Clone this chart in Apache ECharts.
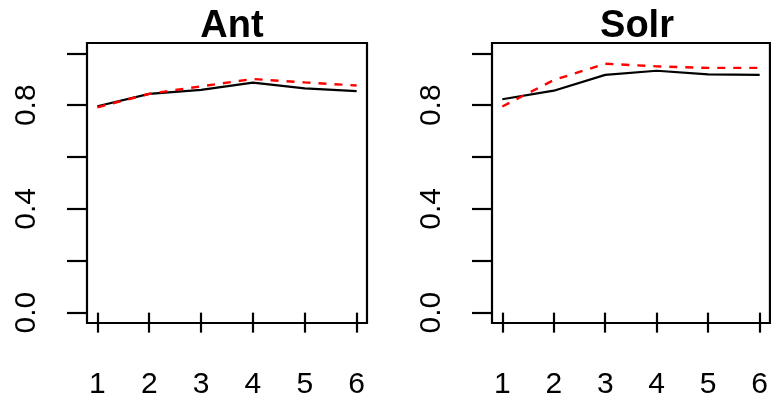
<!DOCTYPE html>
<html>
<head>
<meta charset="utf-8">
<script src="https://cdn.jsdelivr.net/npm/echarts@6/dist/echarts.min.js"></script>
<style>
  html, body { margin: 0; padding: 0; background: #ffffff; }
  #chart { width: 771px; height: 402px; }
</style>
</head>
<body>
<div id="chart"></div>
<script>
// x positions 1..6, two panels, two series each
const steps = [1, 2, 3, 4, 5, 6];
const panelTitles = ['Ant', 'Solr'];

const antSolid  = [0.796, 0.844, 0.859, 0.887, 0.865, 0.854];
const antDashed = [0.792, 0.844, 0.873, 0.901, 0.888, 0.876];

const solrSolid  = [0.823, 0.856, 0.917, 0.933, 0.919, 0.917];
const solrDashed = [0.795, 0.897, 0.960, 0.950, 0.944, 0.944];

const yTicks = [0, 0.2, 0.4, 0.6, 0.8, 1.0];
const yLabels = [0, 0.4, 0.8];

const FONT = '"Liberation Sans", Arial, Helvetica, sans-serif';

// panel boxes (R plot regions)
const panels = [
  { left: 87, solid: antSolid, dashed: antDashed },
  { left: 492, solid: solrSolid, dashed: solrDashed }
];
const BOX_W = 280, BOX_TOP = 43, BOX_H = 280;

const chart = echarts.init(document.getElementById('chart'), null, { renderer: 'canvas' });

const grids = [], xAxes = [], yAxes = [], titles = [], series = [];

panels.forEach((p, i) => {
  grids.push({
    left: p.left, top: BOX_TOP, width: BOX_W, height: BOX_H,
    show: true, borderColor: '#000', borderWidth: 2.2, backgroundColor: 'transparent'
  });

  titles.push({
    text: panelTitles[i],
    left: p.left + BOX_W / 2,
    top: 3,
    textAlign: 'center',
    textStyle: { fontFamily: FONT, fontSize: 38, fontWeight: 'bold', color: '#000' }
  });

  xAxes.push({
    gridIndex: i, type: 'value', min: 0.8, max: 6.2,
    axisLine: { show: false },
    splitLine: { show: false },
    axisTick: { show: true, inside: false, length: 20, customValues: steps,
                lineStyle: { color: '#000', width: 2.2 } },
    axisLabel: { show: true, customValues: steps, margin: 47,
                 fontFamily: FONT, fontSize: 30, color: '#000',
                 formatter: v => String(v) }
  });

  yAxes.push({
    gridIndex: i, type: 'value', min: -0.04, max: 1.04,
    axisLine: { show: false },
    splitLine: { show: false },
    axisTick: { show: true, inside: false, length: 20, customValues: yTicks,
                lineStyle: { color: '#000', width: 2.2 } },
    axisLabel: { show: true, customValues: yLabels, rotate: 90, margin: 45,
                 fontFamily: FONT, fontSize: 30, color: '#000',
                 formatter: v => v.toFixed(1) }
  });

  series.push({
    type: 'line', xAxisIndex: i, yAxisIndex: i,
    data: steps.map((x, k) => [x, p.solid[k]]),
    symbol: 'none', silent: true, animation: false,
    lineStyle: { color: '#000', width: 2.2 }
  });
  series.push({
    type: 'line', xAxisIndex: i, yAxisIndex: i,
    data: steps.map((x, k) => [x, p.dashed[k]]),
    symbol: 'none', silent: true, animation: false,
    lineStyle: { color: '#ff0000', width: 2.4, type: [8, 8] }
  });
});

chart.setOption({
  backgroundColor: '#ffffff',
  animation: false,
  title: titles,
  grid: grids,
  xAxis: xAxes,
  yAxis: yAxes,
  series
});
</script>
</body>
</html>
